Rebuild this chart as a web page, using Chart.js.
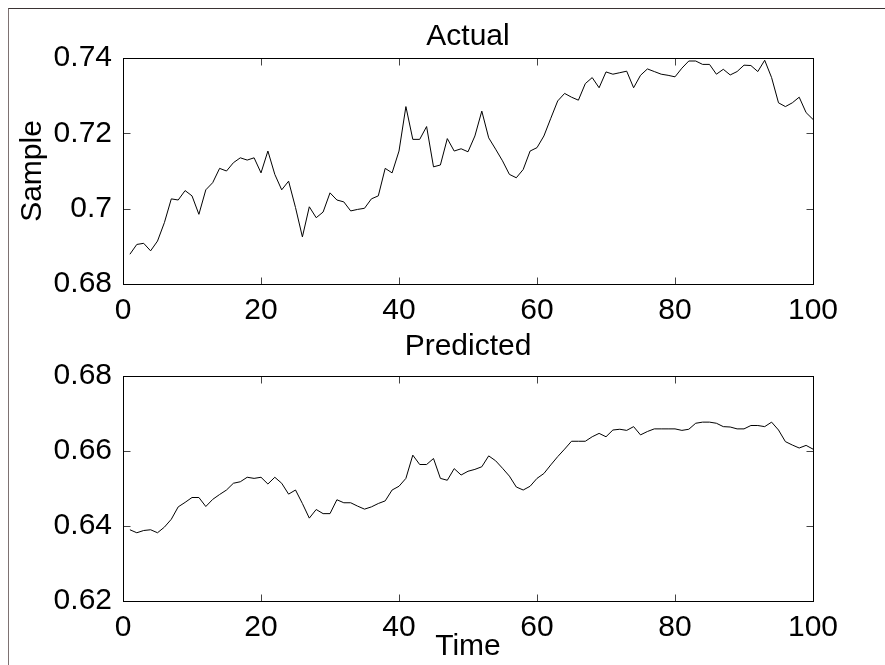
<!DOCTYPE html>
<html>
<head>
<meta charset="utf-8">
<script src="https://cdn.jsdelivr.net/npm/chart.js@4.4.1/dist/chart.umd.min.js"></script>
<style>
  html, body { margin: 0; padding: 0; background: #fff; overflow: hidden; }
  #wrap { position: relative; width: 885px; height: 665px; }
  #frame { position: absolute; left: 8px; top: 8px; width: 877px; height: 657px;
           border-top: 1px solid #3a3333; border-left: 1px solid #7d7272; box-sizing: border-box; }
  canvas { position: absolute; left: 0; }
  #top { top: 0; }
  #bottom { top: 325px; }
</style>
</head>
<body>
<div id="wrap">
  <div id="frame"></div>
  <canvas id="top" width="885" height="325"></canvas>
  <canvas id="bottom" width="885" height="340"></canvas>
</div>
<script>
// Data

const time = [
  1, 2, 3, 4, 5, 6, 7, 8, 9, 10, 11, 12, 13, 14, 15, 16, 17, 18, 19, 20,
  21, 22, 23, 24, 25, 26, 27, 28, 29, 30, 31, 32, 33, 34, 35, 36, 37, 38, 39, 40,
  41, 42, 43, 44, 45, 46, 47, 48, 49, 50, 51, 52, 53, 54, 55, 56, 57, 58, 59, 60,
  61, 62, 63, 64, 65, 66, 67, 68, 69, 70, 71, 72, 73, 74, 75, 76, 77, 78, 79, 80,
  81, 82, 83, 84, 85, 86, 87, 88, 89, 90, 91, 92, 93, 94, 95, 96, 97, 98, 99, 100
];

const actual = [
  0.6879, 0.6905, 0.6908, 0.6888, 0.6914, 0.6963, 0.7026, 0.7023, 0.7048, 0.7034,
  0.6985, 0.7050, 0.7069, 0.7107, 0.7100, 0.7122, 0.7135, 0.7129, 0.7135, 0.7095,
  0.7153, 0.7091, 0.7050, 0.7073, 0.7003, 0.6925, 0.7005, 0.6976, 0.6991, 0.7042,
  0.7023, 0.7018, 0.6994, 0.6998, 0.7001, 0.7026, 0.7034, 0.7107, 0.7095, 0.7153,
  0.7271, 0.7184, 0.7184, 0.7218, 0.7111, 0.7116, 0.7186, 0.7153, 0.7159, 0.7151,
  0.7193, 0.7259, 0.7188, 0.7158, 0.7127, 0.7091, 0.7082, 0.7104, 0.7153, 0.7162,
  0.7193, 0.7240, 0.7286, 0.7306, 0.7296, 0.7288, 0.7332, 0.7348, 0.7321, 0.7363,
  0.7357, 0.7361, 0.7365, 0.7321, 0.7354, 0.7371, 0.7364, 0.7357, 0.7354, 0.7350,
  0.7373, 0.7392, 0.7392, 0.7383, 0.7383, 0.7357, 0.7370, 0.7355, 0.7364, 0.7381,
  0.7380, 0.7364, 0.7394, 0.7348, 0.7281, 0.7271, 0.7281, 0.7296, 0.7255, 0.7237
];

const predicted = [
  0.6390, 0.6382, 0.6388, 0.6390, 0.6382, 0.6397, 0.6418, 0.6451, 0.6463, 0.6476,
  0.6476, 0.6452, 0.6471, 0.6484, 0.6496, 0.6514, 0.6518, 0.6530, 0.6527, 0.6530,
  0.6512, 0.6530, 0.6514, 0.6485, 0.6496, 0.6460, 0.6421, 0.6444, 0.6433, 0.6433,
  0.6470, 0.6462, 0.6462, 0.6453, 0.6445, 0.6451, 0.6460, 0.6467, 0.6496, 0.6506,
  0.6527, 0.6589, 0.6564, 0.6564, 0.6580, 0.6527, 0.6522, 0.6553, 0.6536, 0.6546,
  0.6551, 0.6558, 0.6587, 0.6574, 0.6554, 0.6533, 0.6504, 0.6496, 0.6506, 0.6527,
  0.6540, 0.6563, 0.6585, 0.6605, 0.6626, 0.6626, 0.6626, 0.6638, 0.6647, 0.6638,
  0.6656, 0.6658, 0.6655, 0.6665, 0.6643, 0.6652, 0.6659, 0.6659, 0.6659, 0.6659,
  0.6655, 0.6658, 0.6674, 0.6677, 0.6677, 0.6674, 0.6665, 0.6664, 0.6659, 0.6659,
  0.6668, 0.6668, 0.6665, 0.6677, 0.6656, 0.6625, 0.6616, 0.6608, 0.6615, 0.6605
];

const xTicks = [0, 20, 40, 60, 80, 100];
const yTicksTop = [0.68, 0.70, 0.72, 0.74];
const yTicksBottom = [0.62, 0.64, 0.66, 0.68];

Chart.defaults.font.family = "'Liberation Sans', Arial, sans-serif";
Chart.defaults.font.size = 30;
Chart.defaults.color = '#000';

// box round the plot + inward ticks on all four sides (matlab style)
const matlabBox = {
  id: 'matlabBox',
  afterDatasetsDraw(chart) {
    const ctx = chart.ctx;
    const a = chart.chartArea;
    const L = Math.round(a.left) + 0.5, R = Math.round(a.right) + 0.5;
    const T = Math.round(a.top) + 0.5, B = Math.round(a.bottom) + 0.5;
    const len = 7;
    ctx.save();
    ctx.lineWidth = 1;
    ctx.strokeStyle = '#444';
    ctx.beginPath();
    chart.scales.x.ticks.forEach(t => {
      const px = Math.round(chart.scales.x.getPixelForValue(t.value)) + 0.5;
      ctx.moveTo(px, B); ctx.lineTo(px, B - len);
      ctx.moveTo(px, T); ctx.lineTo(px, T + len);
    });
    chart.scales.y.ticks.forEach(t => {
      const py = Math.round(chart.scales.y.getPixelForValue(t.value)) + 0.5;
      ctx.moveTo(L, py); ctx.lineTo(L + len, py);
      ctx.moveTo(R, py); ctx.lineTo(R - len, py);
    });
    ctx.stroke();
    ctx.strokeStyle = '#000';
    ctx.strokeRect(L, T, R - L, B - T);
    ctx.restore();
  }
};

function makeChart(id, values, yMin, yMax, yTicks, opts) {
  return new Chart(document.getElementById(id), {
    type: 'line',
    data: {
      datasets: [{
        data: time.map((t, i) => ({ x: t, y: values[i] })),
        borderColor: '#000',
        borderWidth: 1,
        pointRadius: 0,
        tension: 0,
        fill: false
      }]
    },
    options: {
      responsive: false,
      animation: false,
      layout: { padding: { left: 0, right: 72, top: 0, bottom: 0 } },
      plugins: {
        legend: { display: false },
        tooltip: { enabled: false },
        title: {
          display: true,
          text: opts.title,
          fullSize: false,
          color: '#000',
          font: { size: 30, weight: 'normal' },
          padding: opts.titlePad
        }
      },
      scales: {
        x: {
          type: 'linear',
          min: 0,
          max: 100,
          grid: { display: false, drawTicks: false },
          border: { display: false },
          afterBuildTicks: s => { s.ticks = xTicks.map(v => ({ value: v })); },
          afterFit: s => { s.height = opts.xHeight; },
          ticks: { padding: 9, maxRotation: 0, autoSkip: false, color: '#000' },
          title: {
            display: !!opts.xLabel,
            text: opts.xLabel || '',
            color: '#000',
            font: { size: 30 },
            padding: { top: 0, bottom: 0 }
          }
        },
        y: {
          min: yMin,
          max: yMax,
          grid: { display: false, drawTicks: false },
          border: { display: false },
          afterBuildTicks: s => { s.ticks = yTicks.map(v => ({ value: v })); },
          afterFit: s => { s.width = 123; },
          ticks: {
            padding: 11,
            color: '#000',
            callback: v => String(+v.toFixed(2))
          },
          title: {
            display: !!opts.yLabel,
            text: opts.yLabel || '',
            color: '#000',
            font: { size: 30 },
            padding: { top: 15, bottom: 0 }
          }
        }
      }
    },
    plugins: [matlabBox]
  });
}

makeChart('top', actual, 0.68, 0.74, yTicksTop, {
  title: 'Actual',
  titlePad: { top: 19, bottom: 3 },
  xHeight: 41,
  yLabel: 'Sample'
});

makeChart('bottom', predicted, 0.62, 0.68, yTicksBottom, {
  title: 'Predicted',
  titlePad: { top: 4, bottom: 11 },
  xHeight: 64,
  xLabel: 'Time'
});
</script>
</body>
</html>
